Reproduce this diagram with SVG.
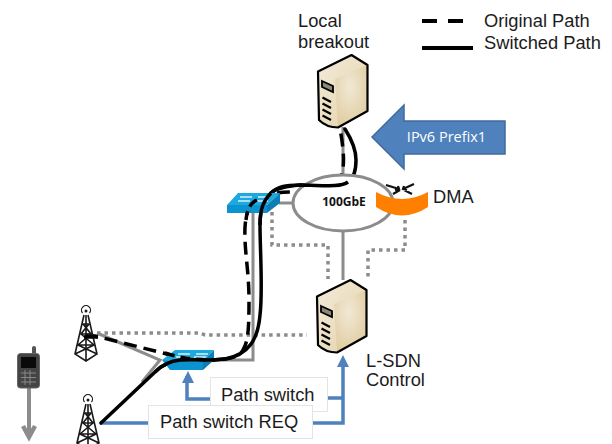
<svg xmlns="http://www.w3.org/2000/svg" width="612" height="444" viewBox="0 0 612 444">
<style>
text{font-family:"Liberation Sans",Arial,sans-serif;fill:#1c1c1c;font-size:18.3px}
.gray{fill:none;stroke:#8c8c8c;stroke-width:3}
.dot{fill:none;stroke:#8c8c8c;stroke-width:3.5;stroke-dasharray:3.5 4}
.blue{fill:none;stroke:#4f81bd;stroke-width:3.5}
.sol{fill:none;stroke:#000;stroke-width:3.5;stroke-linecap:round}
.dash{fill:none;stroke:#000;stroke-width:3.5;stroke-dasharray:13 7}
.box{fill:#fff;stroke:#e4e4e4;stroke-width:1}
.t{fill:none;stroke:#1a1a1a;stroke-width:1.6}
</style>
<defs>
<linearGradient id="sf" x1="0" y1="0" x2="1" y2="1"><stop offset="0" stop-color="#f3ecdc"/><stop offset="1" stop-color="#e4d2a6"/></linearGradient>
<radialGradient id="ss" cx=".45" cy=".35" r=".8"><stop offset="0" stop-color="#f1e9d6"/><stop offset="1" stop-color="#dcc796"/></radialGradient>
<g id="server">
<path d="M351.500 55L367.500 65V111L338 127.500C331 127.500 324 125 319 120L318 71.500Z" fill="url(#sf)"/>
<path d="M335 79L367.500 65V111L338 127.500Z" fill="url(#ss)"/>
<path d="M351.500 55L367.500 65V111L338 127.500C331 127.500 324 125 319 120L318 71.500Z" fill="none" stroke="#000" stroke-width="2.200" stroke-linejoin="round"/>
<path d="M322 81L333 86V92L322 87Z" fill="#8a8a7a" stroke="#000" stroke-width="1.800"/>
<path d="M322.500 97.500L331 102M322.500 103.500L331 108M322.500 109.500L331 114M322.500 115.500L331 120" stroke="#000" stroke-width="2.200" fill="none"/>
</g>
<g id="tower">
<path class="t" d="M-2 5L-11 44L0 51L11 44L2 5M-3 14H3M-5 24H5M-8 35H8M-3 14L5 24L-8 35L11 44M3 14L-5 24L8 35L-11 44M0 5V51"/>
<path d="M-3.500 3A4.500 4.500 0 1 1 3.500 3" fill="none" stroke="#1a1a1a" stroke-width="1.200"/>
<circle cx="0" cy="1" r="1.500" fill="#1a1a1a"/>
</g>
</defs>

<g id="connectors">
<path class="gray" d="M343 127V175M279 203H293M343 231V280"/>
<path class="gray" d="M253 212V360H205M97 333L160 360L142 382"/>
<path class="dot" d="M97 333H200L205 335H307M272 212V245H328V279M405 220V250H368V279"/>
<path class="blue" d="M100 423H148M313 423H343V360M328 398H343M210 399H187V376"/>
<path d="M343 355L349 367H337Z M188 371L194 383H182Z" fill="#4f81bd"/>
<path class="dash" d="M85 335L95 336L163 353C180 358 195 360 213 360C225 360 239 358 243 350C248 342 249 330 249 300C249 270 244 250 245 227C246 212 250 203 257 200C268 193 280 192 295 192C315 192 332 190 338 182C346 172 344 150 340 129"/>
<path class="sol" d="M345 129C352 140 356 150 356 160C356 170 354 178 348 182C340 188 320 185 300 185C285 185 277 187 271 193C264 200 260 208 260 225C260 250 263 290 260 315C258 340 248 355 225 359C205 361 195 359 180 360C170 361 163 364 155 372L101 423"/>
</g>

<g id="legend">
<path d="M422 21H437M448 21H463" stroke="#000" stroke-width="4" fill="none"/>
<path d="M422 48H473" stroke="#000" stroke-width="4" fill="none"/>
<text x="484" y="27">Original Path</text>
<text x="484" y="49">Switched Path</text>
</g>

<g id="local-breakout">
<use href="#server"/>
<text x="298" y="27">Local</text>
<text x="298" y="48">breakout</text>
</g>

<g id="prefix">
<path d="M372 137L404 105V121H505V154H404V169Z" fill="#4f81bd" stroke="#3f6a9e" stroke-width="1.500"/>
<text x="446.500" y="142" text-anchor="middle" style="font-family:'Open Sans',sans-serif;font-size:14.500px;fill:#fff">IPv6 Prefix1</text>
</g>

<g id="ring">
<ellipse cx="343" cy="203" rx="50" ry="28" fill="#fff" stroke="#8c8c8c" stroke-width="3"/>
<text x="344" y="206" text-anchor="middle" style="font-family:'Open Sans',sans-serif;font-weight:bold;font-size:12px;fill:#111">100GbE</text>
</g>
<path d="M271 193C276 188 290 186 300 185C320 185 340 188 348 182" fill="none" stroke="#000" stroke-width="3.500"/>

<g id="dma">
<path d="M376 192Q402 206 428 192V207Q402 224 376 207Z" fill="#ff8000"/>
<path d="M386 185L399 189M398 186L399 189L395 190M393 194L400 190M414 184L403 189M404 186L403 189L407 190M412 194L404 190" stroke="#111" stroke-width="2.200" fill="none"/>
<text x="433" y="203">DMA</text>
</g>

<g id="switch-upper">
<path d="M227 205L238 193H280L267 205Z" fill="#1ea8e0"/>
<path d="M227 205H267V213H227Z" fill="#0a93cf"/>
<path d="M267 205L280 193V203L267 213Z" fill="#0b7fb5"/>
<path d="M240 197H252M250 201H238M258 197H270M268 201H256" stroke="#d6f1fc" stroke-width="1.300" fill="none"/>
</g>
<path d="M257 200C250 203 247 210 246 220" fill="none" stroke="#000" stroke-width="3.500" stroke-dasharray="10 5"/>
<path d="M271 193C264 200 260 208 260 225" fill="none" stroke="#000" stroke-width="3.500"/>

<g id="switch-lower">
<path d="M162 360L175 350H214L203 361Z" fill="#1ea8e0"/>
<path d="M162 360L203 361V370H170Z" fill="#0a93cf"/>
<path d="M203 361L214 350V360L203 370Z" fill="#0b7fb5"/>
<path d="M178 354H190M188 357H176M196 354H208M206 357H194" stroke="#d6f1fc" stroke-width="1.300" fill="none"/>
</g>
<path d="M165 353C180 358 195 360 213 360" fill="none" stroke="#000" stroke-width="3.500" stroke-dasharray="10 6"/>
<path d="M225 359C205 361 195 359 180 360C170 361 163 364 155 372" fill="none" stroke="#000" stroke-width="3.500"/>

<g id="l-sdn">
<use href="#server" transform="translate(-1 225)"/>
<text x="366" y="367">L-SDN</text>
<text x="366" y="386">Control</text>
</g>

<g id="tower-1"><use href="#tower" transform="translate(86 310)"/></g>
<path d="M84 337H98" stroke="#000" stroke-width="3.500" fill="none"/>
<g id="tower-2"><use href="#tower" transform="translate(88 399)"/></g>

<g id="phone">
<path d="M29 388V436" stroke="#8c8c8c" stroke-width="4" fill="none"/>
<path d="M23 426L29 437L35 426" stroke="#8c8c8c" stroke-width="4.500" fill="none"/>
<rect x="32" y="346" width="4" height="10" rx="2" fill="#555"/>
<rect x="17.500" y="353.500" width="22" height="34.500" rx="3" fill="#444" stroke="#666"/>
<rect x="21" y="357" width="15" height="11" fill="#0a0a0a"/>
<path d="M21 373H36M21 377.500H36M21 382H36M25 370V385M30 370V385" stroke="#888" stroke-width="1" fill="none"/>
</g>

<g id="path-switch">
<rect class="box" x="210.500" y="377.500" width="117" height="34"/>
<text x="221" y="401">Path switch</text>
</g>
<g id="path-switch-req">
<rect class="box" x="148.500" y="405.500" width="164" height="33"/>
<text x="160" y="428">Path switch REQ</text>
</g>
</svg>
